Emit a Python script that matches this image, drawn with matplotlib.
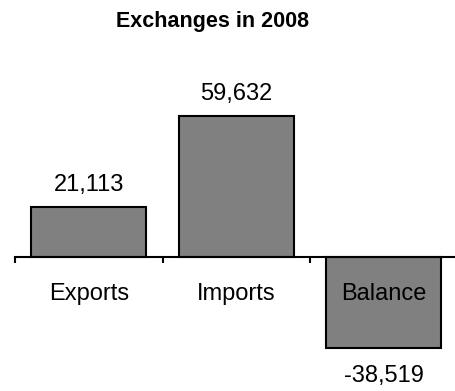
import numpy as np
import matplotlib.pyplot as plt

categories = ["Exports", "Imports", "Balance"]
values = [21113, 59632, -38519]
title = "Exchanges in 2008"

plt.rcParams['font.family'] = ['Liberation Sans', 'DejaVu Sans']

fig = plt.figure(figsize=(4.56, 3.91), dpi=100)
ax = fig.add_axes([15 / 456, 0.0153, 442.5 / 456, 0.830])

x = np.arange(len(categories))
bars = ax.bar(x, values, width=0.78, color="#808080", edgecolor="black", linewidth=1.5)

# value labels above positive bars, below negative ones
for xi, v in zip(x, values):
    label = f"{v:,}"
    if v >= 0:
        ax.annotate(label, (xi, v), xytext=(0, 8), textcoords="offset points",
                    ha="center", va="bottom", fontsize=17)
    else:
        ax.annotate(label, (xi, v), xytext=(0, -12), textcoords="offset points",
                    ha="center", va="top", fontsize=17)

ax.set_xlim(-0.5, 2.5)
ax.set_ylim(-54000, 83000)

for s in ["top", "left", "right"]:
    ax.spines[s].set_visible(False)
ax.spines["bottom"].set_position(("data", 0))
ax.spines["bottom"].set_linewidth(1.5)

ax.set_yticks([])
ax.set_xticks(x)
ax.set_xticklabels(categories, fontsize=17)
ax.set_xticks([-0.5, 0.5, 1.5, 2.5], minor=True)
ax.tick_params(axis="x", which="major", length=0, pad=19)
ax.tick_params(axis="x", which="minor", direction="out", length=4.5, width=1.5)
ax.patch.set_visible(False)

fig.text(213 / 456, 1 - 21 / 391, title, ha="center", va="center",
         fontsize=15.5, fontweight="bold")

fig.savefig("out.png", dpi=100)
